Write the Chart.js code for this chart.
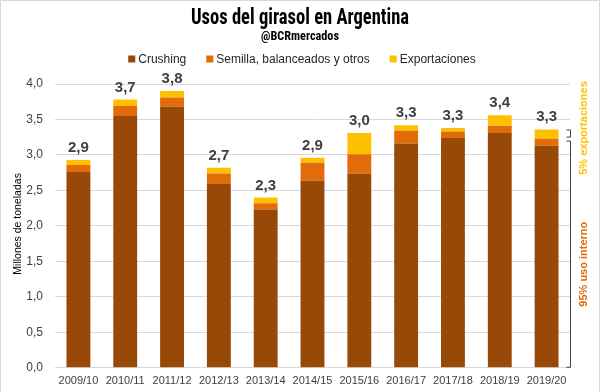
<!DOCTYPE html>
<html>
<head>
<meta charset="utf-8">
<script src="https://cdn.jsdelivr.net/npm/chart.js@4.4.1/dist/chart.umd.min.js"></script>
<style>
  html, body { margin: 0; padding: 0; background: #ffffff; }
  #wrap { width: 600px; height: 392px; position: relative; }
</style>
</head>
<body>
<div id="wrap"><canvas id="c" width="600" height="392"></canvas></div>
<script>
const categories = ['2009/10', '2010/11', '2011/12', '2012/13', '2013/14', '2014/15', '2015/16', '2016/17', '2017/18', '2018/19', '2019/20'];
const crushing = [2.76, 3.55, 3.68, 2.59, 2.23, 2.64, 2.74, 3.16, 3.24, 3.31, 3.13];
const semilla = [0.10, 0.14, 0.13, 0.15, 0.09, 0.25, 0.27, 0.18, 0.09, 0.10, 0.10];
const exportaciones = [0.07, 0.09, 0.09, 0.08, 0.08, 0.07, 0.30, 0.08, 0.05, 0.15, 0.13];
const totalLabels = [2.9, 3.7, 3.8, 2.7, 2.3, 2.9, 3.0, 3.3, 3.3, 3.4, 3.3];
const seriesNames = ['Crushing', 'Semilla, balanceados y otros', 'Exportaciones'];
const seriesColors = ['#984807', '#E36C0A', '#FFC000'];
const titleText = 'Usos del girasol en Argentina';
const subtitleText = '@BCRmercados';
const yAxisTitle = 'Millones de toneladas';
const shareLabels = ['5% exportaciones', '95% uso interno'];

const fmt = v => v.toFixed(1).replace('.', ',');
const SANS = "'Liberation Sans', Arial, sans-serif";
const NARROW = "'Liberation Sans Narrow', 'Roboto Condensed', 'Liberation Sans', sans-serif";

const customPlugin = {
  id: 'custom',
  afterDraw(chart) {
    const ctx = chart.ctx;
    const area = chart.chartArea;
    const y = chart.scales.y;
    ctx.save();

    // outer frame
    ctx.strokeStyle = '#d9d9d9';
    ctx.lineWidth = 1;
    ctx.beginPath();
    ctx.moveTo(0.5, 392); ctx.lineTo(0.5, 0.5); ctx.lineTo(599.5, 0.5); ctx.lineTo(599.5, 392);
    ctx.stroke();

    // title & subtitle (condensed to the reference widths)
    ctx.textBaseline = 'middle';
    ctx.fillStyle = '#000000';
    const condensed = (text, font, cx, cy, targetW) => {
      ctx.save();
      ctx.font = font;
      const w = ctx.measureText(text).width;
      const k = Math.min(1, targetW / w);
      ctx.translate(cx, cy);
      ctx.scale(k, 1);
      ctx.textAlign = 'center';
      ctx.fillText(text, 0, 0);
      ctx.restore();
    };
    condensed(titleText, 'bold 22px ' + NARROW, 300, 18, 218);
    condensed(subtitleText, 'bold 12.5px ' + NARROW, 300, 37, 78);

    // legend
    ctx.font = '12px ' + SANS;
    const box = 7, gap = 3, spacing = 20;
    const items = chart.data.datasets.map(ds => ({
      label: ds.label, color: ds.backgroundColor, w: ctx.measureText(ds.label).width
    }));
    let total = items.reduce((s, it) => s + box + gap + it.w, 0) + spacing * (items.length - 1);
    let lx = 302 - total / 2;
    const ly = 59;
    ctx.textAlign = 'left';
    items.forEach(it => {
      ctx.fillStyle = it.color;
      ctx.fillRect(lx, ly - box / 2, box, box);
      ctx.fillStyle = '#262626';
      ctx.fillText(it.label, lx + box + gap, ly + 0.5);
      lx += box + gap + it.w + spacing;
    });

    // y axis title
    ctx.save();
    ctx.translate(18, (area.top + area.bottom) / 2 - 2);
    ctx.rotate(-Math.PI / 2);
    ctx.textAlign = 'center';
    ctx.fillStyle = '#000000';
    ctx.font = '10.5px ' + SANS;
    ctx.fillText(yAxisTitle, 0, 0);
    ctx.restore();

    // value labels above bars
    const last = chart.getDatasetMeta(chart.data.datasets.length - 1);
    ctx.textAlign = 'center';
    ctx.textBaseline = 'alphabetic';
    ctx.font = 'bold 15px ' + SANS;
    ctx.fillStyle = '#404040';
    last.data.forEach((bar, i) => {
      ctx.fillText(fmt(totalLabels[i]), bar.x, bar.y - 8);
    });

    // brackets for last bar
    const n = categories.length - 1;
    const yTop = y.getPixelForValue(crushing[n] + semilla[n] + exportaciones[n]);
    const yMid = y.getPixelForValue(crushing[n] + semilla[n]);
    const yBot = y.getPixelForValue(0);
    const bx = area.right + 0.5;
    ctx.strokeStyle = '#404040';
    ctx.lineWidth = 1;
    const bracket = (t, b) => {
      ctx.beginPath();
      ctx.moveTo(bx - 4, t + 0.5); ctx.lineTo(bx, t + 0.5); ctx.lineTo(bx, b - 0.5); ctx.lineTo(bx - 4, b - 0.5);
      ctx.stroke();
    };
    bracket(yTop, yMid - 1);
    bracket(yMid + 2, yBot);

    // rotated share labels
    ctx.font = 'bold 11px ' + SANS;
    ctx.textBaseline = 'middle';
    const drawRot = (text, color, cy) => {
      ctx.save();
      ctx.translate(584, cy);
      ctx.rotate(-Math.PI / 2);
      ctx.textAlign = 'center';
      ctx.fillStyle = color;
      ctx.fillText(text, 0, 0);
      ctx.restore();
    };
    drawRot(shareLabels[0], seriesColors[2], (yTop + yMid) / 2 - 6);
    drawRot(shareLabels[1], seriesColors[1], (yMid + yBot) / 2 + 11);

    ctx.restore();
  }
};

new Chart(document.getElementById('c'), {
  type: 'bar',
  data: {
    labels: categories,
    datasets: [
      { label: seriesNames[0], data: crushing, backgroundColor: seriesColors[0] },
      { label: seriesNames[1], data: semilla, backgroundColor: seriesColors[1] },
      { label: seriesNames[2], data: exportaciones, backgroundColor: seriesColors[2] }
    ]
  },
  options: {
    responsive: false,
    animation: false,
    layout: { padding: { top: 84, right: 30, bottom: -3, left: 0 } },
    datasets: { bar: { categoryPercentage: 1, barPercentage: 0.51, borderWidth: 0 } },
    plugins: {
      legend: { display: false },
      title: { display: false },
      tooltip: { enabled: false }
    },
    scales: {
      x: {
        stacked: true,
        grid: { display: false, drawTicks: false },
        border: { display: false },
        ticks: { color: '#404040', font: { family: SANS, size: 11 }, padding: 7, maxRotation: 0, autoSkip: false }
      },
      y: {
        stacked: true,
        min: 0,
        max: 4,
        afterFit: axis => { axis.width = 55; },
        grid: { color: '#d9d9d9', drawTicks: false, lineWidth: 1 },
        border: { display: false },
        ticks: {
          stepSize: 0.5,
          padding: 12,
          color: '#404040',
          font: { family: SANS, size: 12 },
          callback: v => fmt(v)
        }
      }
    }
  },
  plugins: [customPlugin]
});
</script>
</body>
</html>
